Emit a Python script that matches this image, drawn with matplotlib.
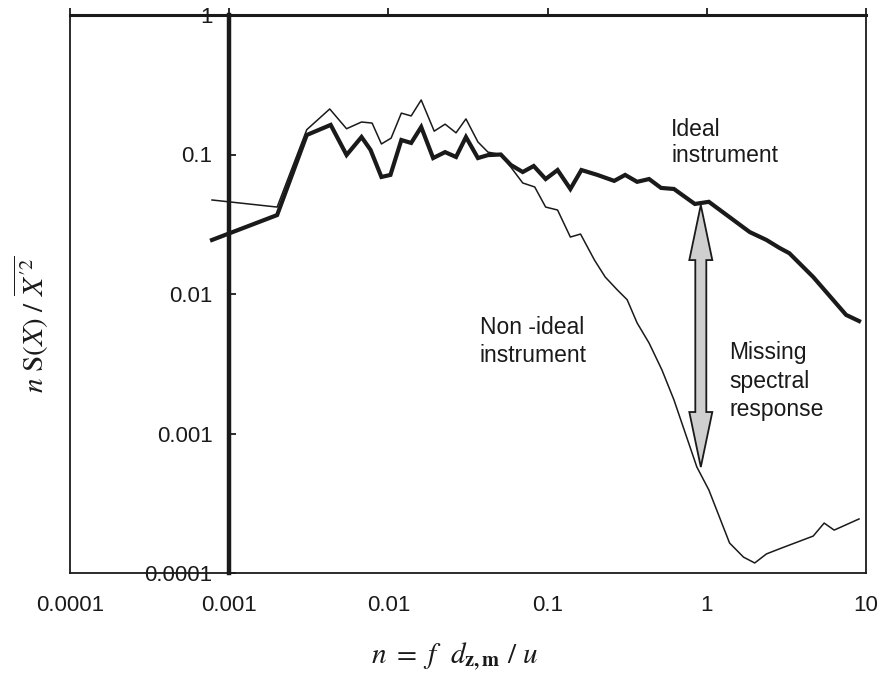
import matplotlib
matplotlib.use("Agg")
import matplotlib.pyplot as plt
from matplotlib.patches import Polygon
from matplotlib.ticker import FixedLocator, FixedFormatter, NullLocator
from matplotlib.transforms import IdentityTransform

plt.rcParams["font.family"] = ["Liberation Sans", "DejaVu Sans"]
plt.rcParams["mathtext.fontset"] = "stix"

INK = "#1a1a1a"

# ideal instrument (thick line)
IDEAL_N = [7.8e-4, 0.0020, 0.00307, 0.00434, 0.00546, 0.00678, 0.00772, 0.00904,
           0.0103, 0.01206, 0.0139, 0.01607, 0.0191, 0.0227, 0.0266, 0.0307,
           0.0365, 0.0422, 0.0508, 0.0587, 0.0698, 0.0818, 0.0972, 0.1155,
           0.139, 0.163, 0.2054, 0.262, 0.307, 0.365, 0.434, 0.516, 0.622,
           0.841, 1.03, 1.86, 2.37, 2.86, 3.30, 4.66, 7.5, 9.04]
IDEAL_S = [0.0244, 0.0368, 0.138, 0.163, 0.0992, 0.1334, 0.108, 0.069,
           0.0714, 0.127, 0.121, 0.1574, 0.0943, 0.104, 0.096, 0.1334,
           0.0943, 0.099, 0.100, 0.0842, 0.0749, 0.0827, 0.0667, 0.0774,
           0.0566, 0.0774, 0.0714, 0.0647, 0.0714, 0.0637, 0.0667, 0.0576, 0.0566,
           0.0442, 0.0458, 0.0278, 0.0244, 0.0214, 0.0196, 0.01324, 0.00708, 0.0064]

# non-ideal instrument (thin line)
NONIDEAL_N = [7.8e-4, 0.0020, 0.00307, 0.00428, 0.00546, 0.00678, 0.00790, 0.00904,
              0.0104, 0.01206, 0.0139, 0.01607, 0.0194, 0.0227, 0.0266, 0.0307,
              0.0365, 0.0422, 0.0508, 0.0587, 0.0698, 0.083, 0.0972, 0.1155,
              0.139, 0.161, 0.197, 0.230, 0.274, 0.316, 0.365, 0.434, 0.523,
              0.622, 0.866, 1.03, 1.39, 1.70, 2.0, 2.37, 2.86, 4.66, 5.46, 6.31, 9.04]
NONIDEAL_S = [0.0472, 0.042, 0.1506, 0.212, 0.153, 0.171, 0.168, 0.119,
              0.131, 0.198, 0.189, 0.246, 0.147, 0.165, 0.143, 0.180,
              0.123, 0.104, 0.100, 0.0813, 0.0625, 0.0585, 0.042, 0.040,
              0.0256, 0.0269, 0.0175, 0.01324, 0.0107, 0.0091, 0.0062, 0.00445, 0.00285,
              0.00174, 0.000575, 0.000394, 0.000164, 0.000130, 0.000118, 0.000137,
              0.000149, 0.000184, 0.000228, 0.000203, 0.000244]

X_TICKS = [1e-4, 1e-3, 1e-2, 1e-1, 1, 10]
X_LABELS = ["0.0001", "0.001", "0.01", "0.1", "1", "10"]
Y_TICKS = [1e-4, 1e-3, 1e-2, 1e-1, 1]
Y_LABELS = ["0.0001", "0.001", "0.01", "0.1", "1"]

ARROW_X, ARROW_TOP, ARROW_BOTTOM = 0.917, 0.0434, 0.000575


def double_arrow(ax, x, y_top, y_bot, shaft=5.5, head=11.5, head_len=55):
    """Filled grey double-headed arrow, drawn in pixel space between two data points."""
    cx, yt = ax.transData.transform((x, y_top))
    _, yb = ax.transData.transform((x, y_bot))
    verts = [(cx, yt), (cx + head, yt - head_len), (cx + shaft, yt - head_len),
             (cx + shaft, yb + head_len), (cx + head, yb + head_len), (cx, yb),
             (cx - head, yb + head_len), (cx - shaft, yb + head_len),
             (cx - shaft, yt - head_len), (cx - head, yt - head_len)]
    ax.add_patch(Polygon(verts, closed=True, fc="#cfcfcf", ec=INK, lw=1.3,
                         transform=IdentityTransform(), zorder=4))


fig = plt.figure(figsize=(8.83, 6.73), dpi=100)
ax = fig.add_axes([70 / 883, 100 / 673, 796 / 883, 558 / 673])
ax.set_xscale("log"); ax.set_yscale("log")
ax.set_xlim(1e-4, 10); ax.set_ylim(1e-4, 1)

ax.plot(IDEAL_N, IDEAL_S, color=INK, lw=3.0, solid_joinstyle="miter", zorder=3)
ax.plot(NONIDEAL_N, NONIDEAL_S, color=INK, lw=1.1, zorder=3)

# frame: thick y-axis sitting at n = 0.001, thin box round the rest
ax.spines["left"].set_position(("data", 1e-3))
ax.spines["left"].set_linewidth(3.2)
ax.spines["top"].set_linewidth(2.2)
ax.spines["bottom"].set_linewidth(1.3)
ax.spines["right"].set_linewidth(1.3)
ax.axvline(1e-4, color=INK, lw=1.3, clip_on=False)
for s in ax.spines.values():
    s.set_color(INK)

ax.xaxis.set_major_locator(FixedLocator(X_TICKS))
ax.xaxis.set_major_formatter(FixedFormatter(X_LABELS))
ax.yaxis.set_major_locator(FixedLocator(Y_TICKS))
ax.yaxis.set_major_formatter(FixedFormatter(Y_LABELS))
ax.xaxis.set_minor_locator(NullLocator()); ax.yaxis.set_minor_locator(NullLocator())
ax.tick_params(axis="x", bottom=False, top=True, labelbottom=True, direction="out",
               length=5, width=1.3, pad=11, labelsize=16, colors=INK)
ax.tick_params(axis="y", left=True, right=False, direction="in", length=5, width=1.3,
               pad=12, labelsize=16, colors=INK)

# va="baseline" pins the last line's baseline
ax.text(0.596, 0.0883, "Ideal\ninstrument", fontsize=16.5, color=INK,
        va="baseline", ha="left", linespacing=1.15)
ax.text(0.0376, 0.00326, "Non -ideal\ninstrument", fontsize=16.5, color=INK,
        va="baseline", ha="left", linespacing=1.25)
ax.text(1.39, 0.00133, "Missing\nspectral\nresponse", fontsize=16.5, color=INK,
        va="baseline", ha="left", linespacing=1.3)

double_arrow(ax, ARROW_X, ARROW_TOP, ARROW_BOTTOM)

fig.text(31 / 883, 1 - 324 / 673, r"$n\ \mathrm{S}(X)\ /\ \overline{X^{\prime 2}}$",
         rotation=90, ha="center", va="center", fontsize=21, color=INK)
fig.text(454 / 883, 1 - 657 / 673, r"$n\ =\ f\ \ d_{\mathbf{z,m}}\ /\ u$",
         ha="center", va="center", fontsize=21, color=INK)

fig.savefig("out.png", dpi=100, facecolor="white")
